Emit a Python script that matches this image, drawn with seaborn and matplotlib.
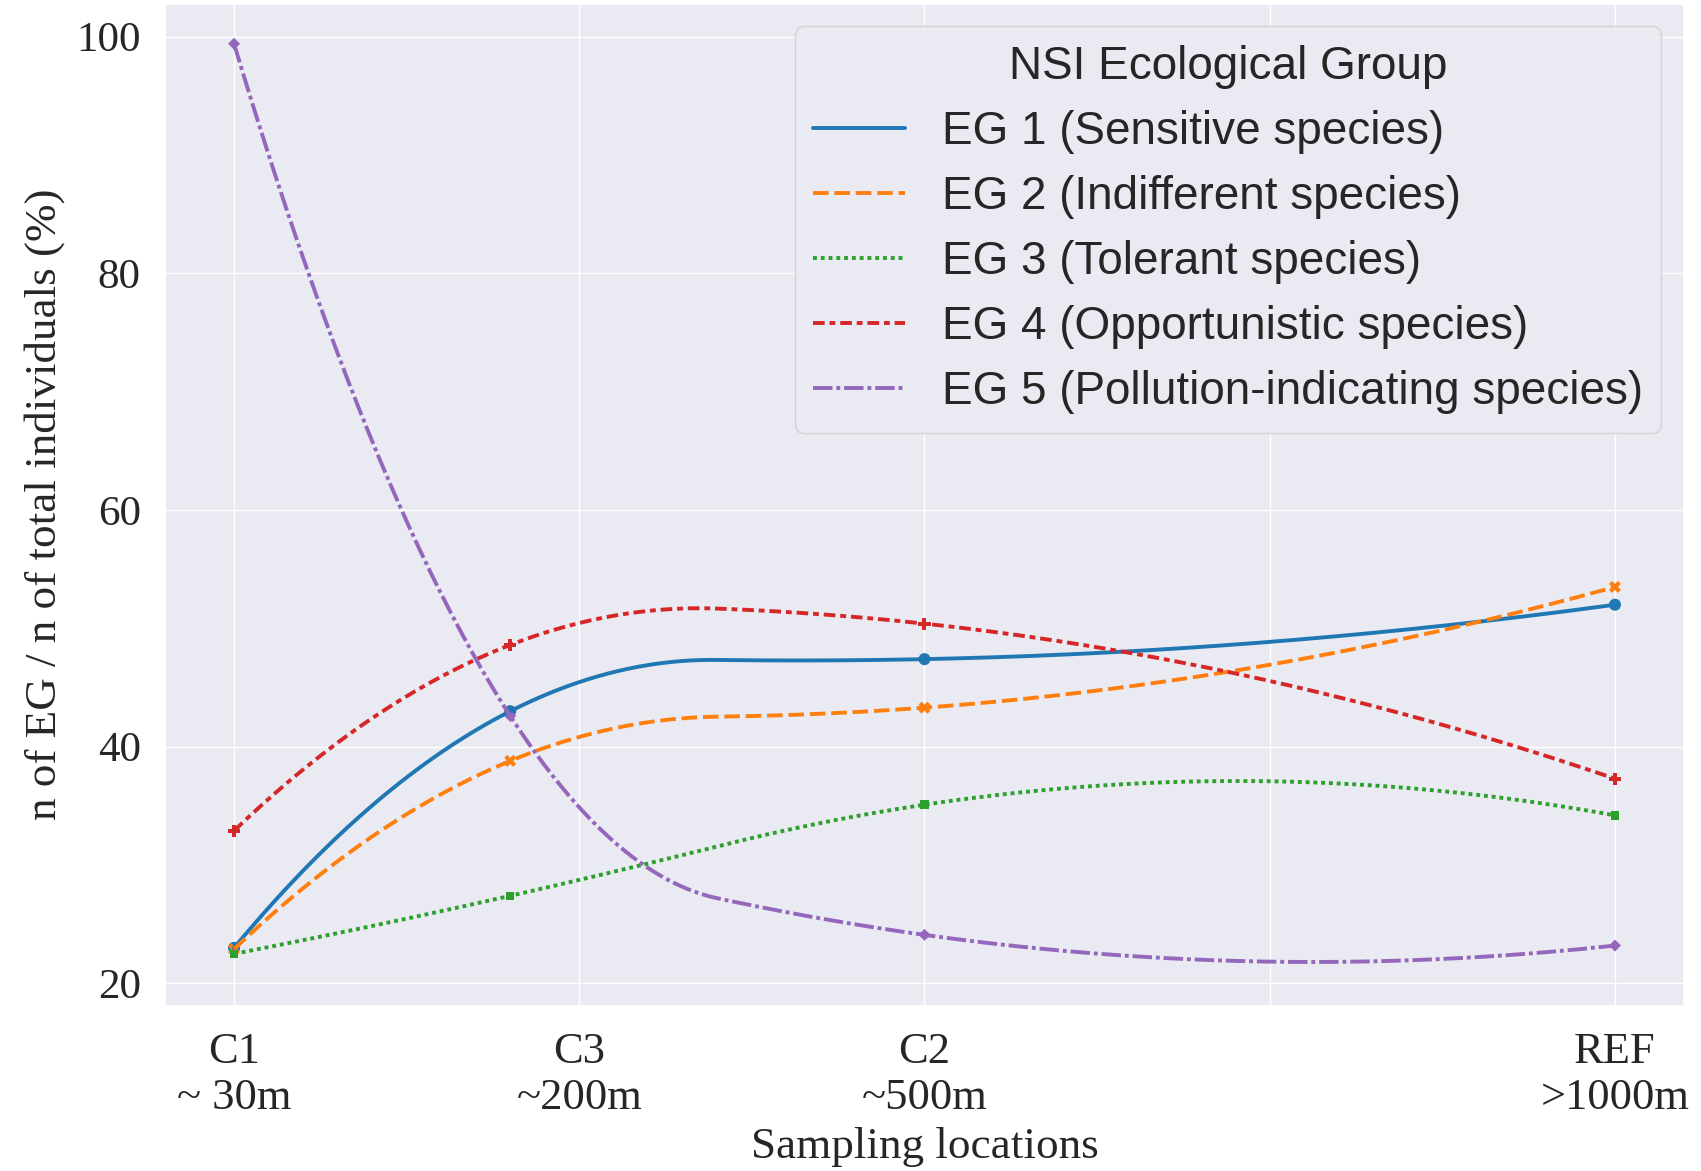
import numpy as np
import pandas as pd
import seaborn as sns
import matplotlib.pyplot as plt

# distance position of each sampling station (x), ticks on a 250 m grid
stations = ["C1", "C3", "C2", "REF"]
station_x = [0, 200, 500, 1000]
tick_pos = [0, 250, 500, 750, 1000]
tick_labels = ["C1\n~ 30m", "C3\n~200m", "C2\n~500m", "", "REF\n>1000m"]

groups = ["EG 1 (Sensitive species)", "EG 2 (Indifferent species)",
          "EG 3 (Tolerant species)", "EG 4 (Opportunistic species)",
          "EG 5 (Pollution-indicating species)"]

# % of individuals per ecological group at each station
eg1 = [23.0, 43.0, 47.4, 52.0]
eg2 = [22.9, 38.8, 43.3, 53.5]
eg3 = [22.5, 27.4, 35.1, 34.2]
eg4 = [32.9, 48.6, 50.4, 37.3]
eg5 = [99.4, 42.6, 24.1, 23.2]
values = [eg1, eg2, eg3, eg4, eg5]

sns.set_theme(style="darkgrid")
plt.rcParams['font.family'] = ['Liberation Serif', 'DejaVu Serif']

points_df = pd.DataFrame({
    'x': np.tile(station_x, len(groups)),
    'y': np.concatenate(values),
    'group': np.repeat(groups, len(station_x)),
})


def quad_spline(x, y, xs):
    # quadratic interpolating spline, one inner knot halfway between stations 2 and 3
    x = np.asarray(x, float)
    knot = (x[1] + x[2]) / 2
    basis = lambda v: np.column_stack([np.ones_like(v), v, v**2, np.clip(v - knot, 0, None)**2])
    coef = np.linalg.solve(basis(x), np.asarray(y, float))
    return basis(xs) @ coef


xs = np.linspace(min(station_x), max(station_x), 400)
smooth_parts = []
for g, v in zip(groups, values):
    smooth_parts.append(pd.DataFrame({'x': xs, 'y': quad_spline(station_x, v, xs), 'group': g}))
smooth_df = pd.concat(smooth_parts, ignore_index=True)

fig, ax = plt.subplots(figsize=(17.01, 11.71), dpi=100)
fig.subplots_adjust(left=0.097, right=0.990, top=0.997, bottom=0.141)

sns.lineplot(data=smooth_df, x='x', y='y', hue='group', style='group',
             palette='tab10', linewidth=2.8, ax=ax)
sns.scatterplot(data=points_df, x='x', y='y', hue='group', style='group',
                palette='tab10', s=75, linewidth=0, legend=False, ax=ax)

ax.set_xlim(-50, 1050)
ax.set_ylim(18.1, 102.8)
ax.set_xticks(tick_pos)
ax.set_xticklabels(tick_labels)
ax.set_yticks([20, 40, 60, 80, 100])
ax.tick_params(axis='y', labelsize=31, pad=11.5)
ax.tick_params(axis='x', labelsize=32, pad=13)
ax.set_xlabel("Sampling locations", fontsize=32.5, labelpad=6)
ax.set_ylabel("n of EG / n of total individuals (%)", fontsize=32.5, labelpad=8)

leg = ax.legend(title="NSI Ecological Group", loc='upper right',
                prop={'family': 'Liberation Sans', 'size': 33},
                handlelength=2.0, labelspacing=0.46)
leg.get_title().set_fontfamily('Liberation Sans')
leg.get_title().set_fontsize(33)

plt.savefig("out.png", dpi=100)
